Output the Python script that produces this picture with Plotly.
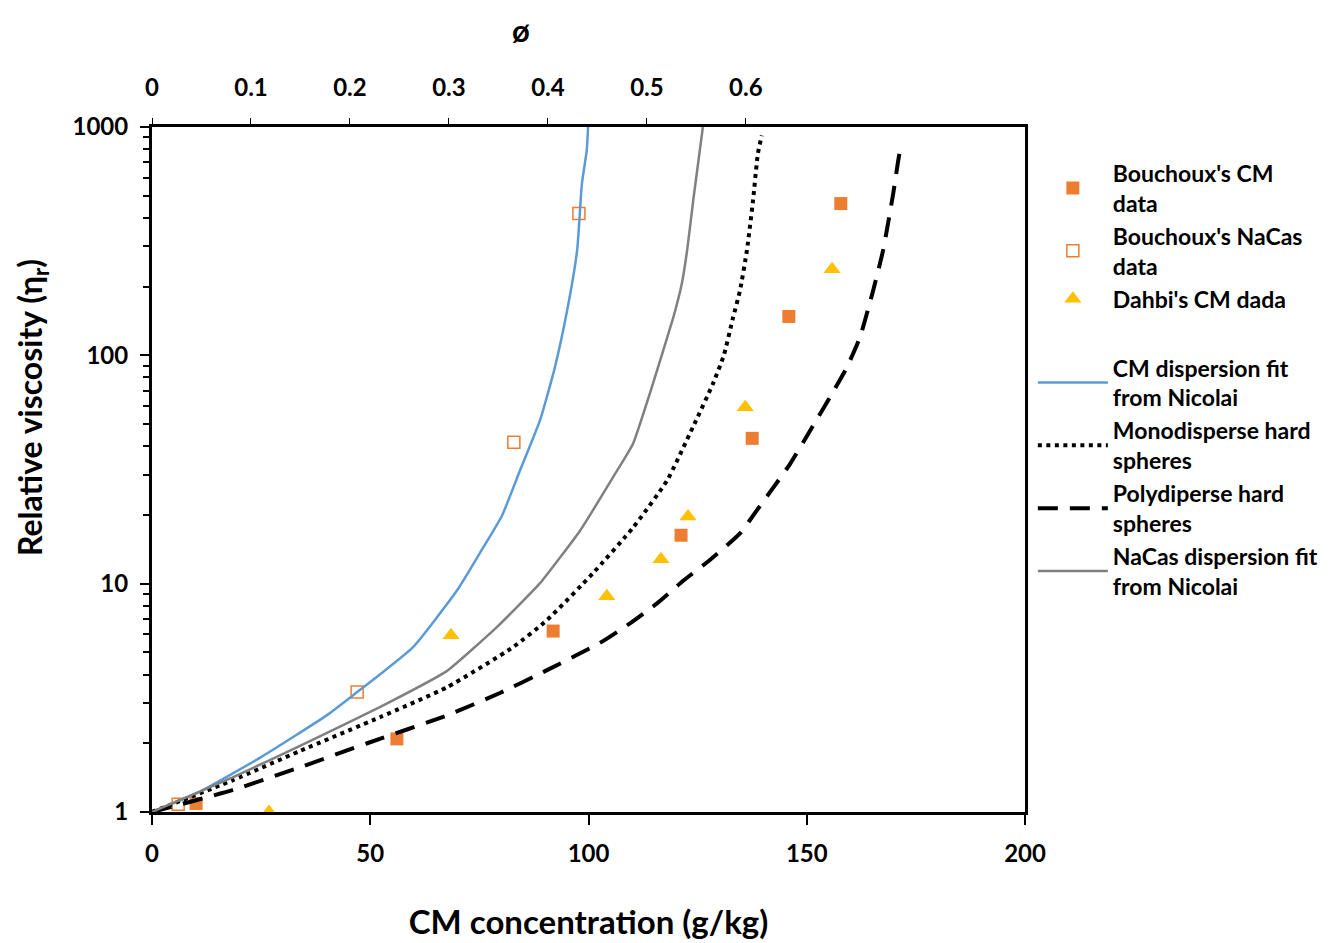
import plotly.graph_objects as go

# ---- data ----
bcm_x = [10.1, 56.1, 91.9, 121.2, 137.5, 145.9, 157.8]
bcm_y = [1.09, 2.09, 6.2, 16.3, 43.3, 148, 462]

bnc_x = [6.0, 47.0, 82.9, 97.8]
bnc_y = [1.08, 3.35, 41.6, 418]

dah_x = [26.8, 68.5, 104.2, 116.6, 122.8, 135.9, 155.8]
dah_y = [1.0, 5.95, 8.8, 12.8, 19.7, 59.2, 238]

cmfit_x = [0, 10, 25, 40, 47, 52.2, 59.8, 69.9, 75.1, 80.2, 84.3, 88.9, 92.3, 95.1, 97.4, 98.5, 99.6, 99.9]
cmfit_y = [1.0, 1.2, 1.74, 2.65, 3.35, 4.0, 5.27, 9.35, 13.6, 19.9, 31.3, 52, 88.6, 157, 289, 567, 790, 1000]

ncfit_x = [0, 18.6, 33.9, 52.2, 67.6, 79.0, 88.9, 98.1, 105.6, 110.2, 114.8, 119.4, 121.4, 122.6, 124.0, 125.5, 126.2]
ncfit_y = [1.0, 1.42, 1.95, 2.88, 4.15, 6.45, 10.05, 17.1, 29.2, 41, 75.5, 146, 207, 289, 478, 790, 1000]

mono_x = [0, 18.6, 33.9, 52.2, 67.6, 82.7, 90.5, 101.0, 110.2, 118.0, 123.9, 128.5, 131.0, 133.1, 134.7, 136.3, 137.7, 138.8, 139.7]
mono_y = [1.0, 1.38, 1.85, 2.6, 3.52, 5.27, 6.93, 11.1, 17.6, 28.3, 48.4, 75, 100, 146, 192, 289, 478, 764, 918]

poly_x = [0, 18.6, 33.9, 49.3, 67.6, 79.7, 90.5, 102.6, 109.5, 115.7, 121.7, 127.8, 134.7, 138.6, 146.2, 151.4, 155.8, 159.2, 162.2, 165.2, 167.5, 169.8, 171.4, 171.8]
poly_y = [1.0, 1.25, 1.57, 2.0, 2.65, 3.32, 4.18, 5.5, 6.7, 8.2, 10.3, 12.7, 16.6, 21, 33.5, 49, 68, 88.6, 120, 192, 289, 510, 790, 812]

phi_ticks = [0, 0.1, 0.2, 0.3, 0.4, 0.5, 0.6]
phi_max = 0.882
x_ticks = [0, 50, 100, 150, 200]
y_ticks = [1, 10, 100, 1000]
y_minor = [m * d for d in (1, 10, 100) for m in range(2, 10)]

FONT = "Lato"
ORANGE = "#ED7D31"
GOLD = "#FFC000"
BLUE = "#5B9BD5"
GRAY = "#808080"

fig = go.Figure()

fig.add_trace(go.Scatter(x=bcm_x, y=bcm_y, mode="markers", name="Bouchoux's CM<br>data",
                         marker=dict(symbol="square", size=13, color=ORANGE),
                         legendgroup="pts"))
fig.add_trace(go.Scatter(x=bnc_x, y=bnc_y, mode="markers", name="Bouchoux's NaCas<br>data",
                         marker=dict(symbol="square-open", size=12, color=ORANGE, line=dict(width=1.5)),
                         legendgroup="pts"))
fig.add_trace(go.Scatter(x=dah_x, y=dah_y, mode="markers", name="Dahbi's CM dada",
                         marker=dict(symbol="triangle-up", size=15, color=GOLD),
                         legendgroup="pts"))
fig.add_trace(go.Scatter(x=cmfit_x, y=cmfit_y, mode="lines", name="CM dispersion fit<br>from Nicolai",
                         line=dict(color=BLUE, width=2.5, shape="spline", smoothing=0.5),
                         legendgroup="lines"))
fig.add_trace(go.Scatter(x=mono_x, y=mono_y, mode="lines", name="Monodisperse hard<br>spheres",
                         line=dict(color="black", width=4, dash="4px,4.5px", shape="spline", smoothing=0.5),
                         legendgroup="lines"))
fig.add_trace(go.Scatter(x=poly_x, y=poly_y, mode="lines", name="Polydiperse hard<br>spheres",
                         line=dict(color="black", width=4, dash="20px,12px", shape="spline", smoothing=0.5),
                         legendgroup="lines"))
fig.add_trace(go.Scatter(x=ncfit_x, y=ncfit_y, mode="lines", name="NaCas dispersion fit<br>from Nicolai",
                         line=dict(color=GRAY, width=2.5, shape="spline", smoothing=0.4),
                         legendgroup="lines"))

# invisible trace to activate the top phi axis
fig.add_trace(go.Scatter(x=[0], y=[1], xaxis="x2", mode="markers", marker=dict(opacity=0),
                         showlegend=False, hoverinfo="skip"))

tickfont = dict(family=FONT, size=24, color="black", weight="bold")
titlefont = dict(family=FONT, size=33, color="black", weight="bold")
ytitlefont = dict(family=FONT, size=32, color="black", weight="bold")

# the page body adds an 8px offset, so the figure is 8px smaller and margins shifted
fig.update_layout(
    width=1331, height=935,
    margin=dict(l=144, r=314, t=119, b=131),
    paper_bgcolor="white", plot_bgcolor="white",
    font=dict(family=FONT, color="black"),
    xaxis=dict(range=[0, 200], tickvals=x_ticks, ticks="outside", ticklen=10, tickwidth=1.5,
               tickcolor="black", showline=True, linecolor="black", linewidth=3, mirror=True,
               showgrid=False, zeroline=False, tickfont=tickfont, ticklabelstandoff=8,
               automargin=False,
               title=dict(text="CM concentration (g/kg)", font=titlefont, standoff=46)),
    xaxis2=dict(range=[0, phi_max], overlaying="x", side="top",
                tickvals=phi_ticks, ticktext=[("%g" % v) for v in phi_ticks],
                ticks="outside", ticklen=8, tickwidth=1, tickcolor="black",
                showgrid=False, zeroline=False, showline=False, tickfont=tickfont,
                ticklabelstandoff=12, automargin=False),
    yaxis=dict(type="log", range=[0, 3], tickvals=y_ticks, ticktext=["1", "10", "100", "1000"],
               ticks="outside", ticklen=9, tickwidth=2, tickcolor="black",
               minor=dict(tickvals=y_minor, ticks="outside", ticklen=6, tickwidth=2,
                          tickcolor="black", showgrid=False),
               showline=True, linecolor="black", linewidth=3, mirror=True,
               showgrid=False, zeroline=False, tickfont=tickfont, ticklabelstandoff=7,
               automargin=False),
    legend=dict(x=1.009, y=0.964, xanchor="left", yanchor="top", itemwidth=70,
                font=dict(family=FONT, size=23, weight="bold", color="black"),
                tracegroupgap=36, bgcolor="rgba(0,0,0,0)", traceorder="grouped"),
    annotations=[
        dict(text="ø", x=(521 - 152) / 873, y=(812 - 9) / 685, xref="paper", yref="paper",
             xanchor="center", yanchor="top", showarrow=False,
             font=dict(family=FONT, size=31, weight="bold", color="black")),
        dict(text="Relative viscosity (η<sub>r</sub>)", x=(32 - 152) / 873, y=(812 - 407) / 685,
             xref="paper", yref="paper", xanchor="center", yanchor="middle", textangle=-90,
             showarrow=False, font=ytitlefont),
    ],
)

fig.write_html("out.html")
